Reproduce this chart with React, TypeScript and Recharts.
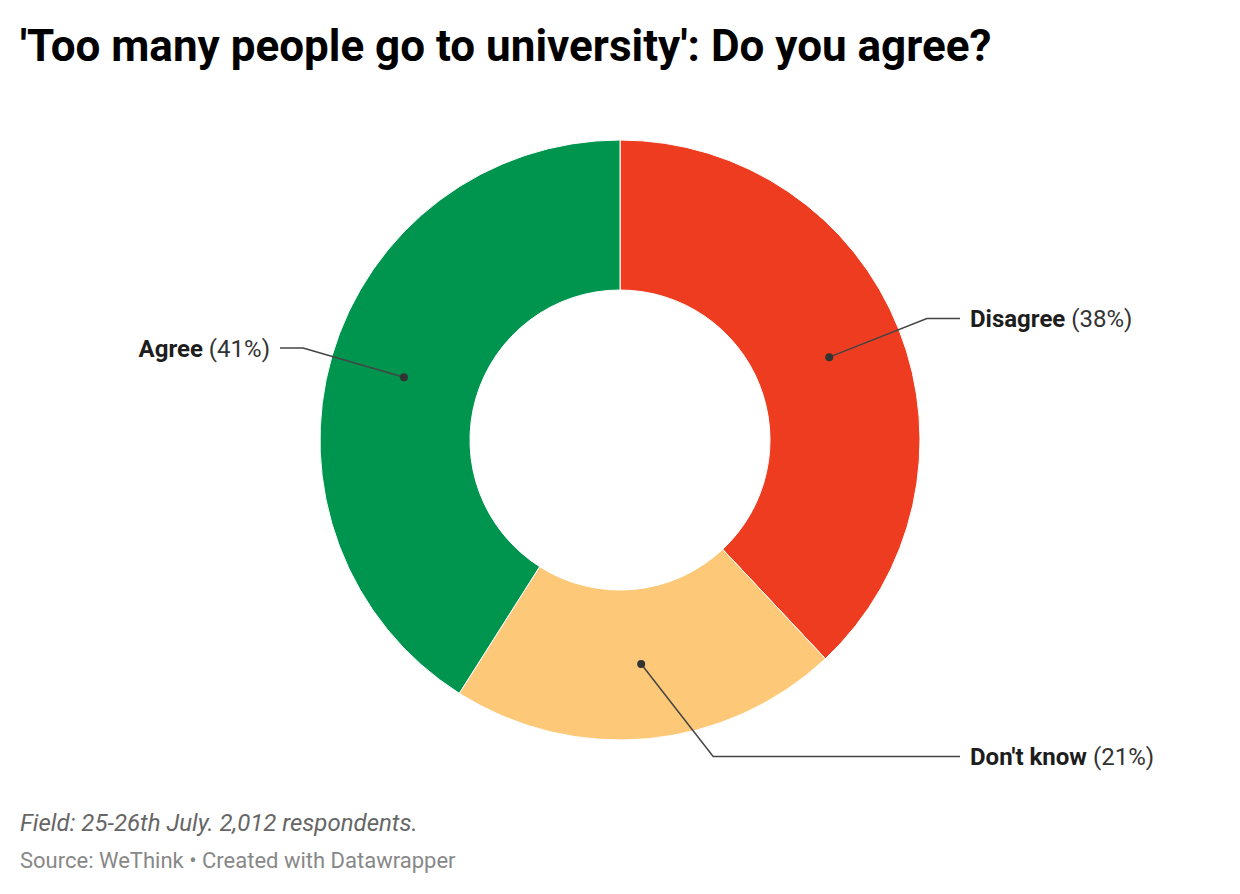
import React from "react";
import { PieChart, Pie, Cell } from "recharts";

const categories = ["Disagree", "Don't know", "Agree"];
const shares = [38, 21, 41];
const colors = ["#EE3C21", "#FDC978", "#00954F"];

const TITLE = "'Too many people go to university': Do you agree?";
const NOTE = "Field: 25-26th July. 2,012 respondents.";
const SOURCE = "Source: WeThink • Created with Datawrapper";

const data = categories.map((name, i) => ({ name, value: shares[i] }));

// leader line tweaks per slice (degrees added to the mid angle for the elbow)
const elbowShift = [0, 11, 0];
const RADIAN = Math.PI / 180;
const FONT = "Roboto, 'Noto Sans', sans-serif";

function SliceLabel(props: any) {
  const { cx, cy, midAngle, innerRadius, outerRadius, index, name, value } = props;
  const rDot = (innerRadius + outerRadius) / 2;
  const dx = cx + rDot * Math.cos(-midAngle * RADIAN);
  const dy = cy + rDot * Math.sin(-midAngle * RADIAN);
  const a = midAngle + elbowShift[index];
  const rElbow = outerRadius + 30;
  const ex = cx + rElbow * Math.cos(-a * RADIAN);
  const ey = cy + rElbow * Math.sin(-a * RADIAN);
  const right = ex > cx;
  const endX = right ? cx + 340 : cx - 340;
  const tx = right ? endX + 10 : endX - 10;
  return (
    <g>
      <polyline
        points={`${dx},${dy} ${ex},${ey} ${endX},${ey}`}
        fill="none"
        stroke="#444"
        strokeWidth={1.5}
      />
      <circle cx={dx} cy={dy} r={4} fill="#333" />
      <text
        x={tx}
        y={ey}
        dy="0.36em"
        textAnchor={right ? "start" : "end"}
        style={{ fontFamily: FONT, fontSize: 24, fill: "#1d1d1d" }}
      >
        <tspan fontWeight={700}>{name}</tspan>
        <tspan fill="#333"> ({value}%)</tspan>
      </text>
    </g>
  );
}

export default function App() {
  return (
    <div style={{ position: "absolute", left: 0, top: 0, width: 1240, height: 894, background: "#fff" }}>
      <div style={{ position: "absolute", left: 0, top: 0 }}>
        <PieChart width={1240} height={894} margin={{ top: 0, right: 0, bottom: 0, left: 0 }}>
          <Pie
            data={data}
            dataKey="value"
            nameKey="name"
            cx={620}
            cy={440}
            innerRadius={150}
            outerRadius={300}
            startAngle={90}
            endAngle={-270}
            stroke="#fff"
            strokeWidth={1}
            label={SliceLabel}
            labelLine={false}
            isAnimationActive={false}
          >
            {data.map((d, i) => (
              <Cell key={d.name} fill={colors[i]} />
            ))}
          </Pie>
        </PieChart>
      </div>
      <svg width={1240} height={894} style={{ position: "absolute", left: 0, top: 0, pointerEvents: "none" }}>
        <text x={20} y={61} style={{ fontFamily: FONT, fontSize: 44, fontWeight: 700, fill: "#000" }}>
          {TITLE}
        </text>
        <text x={20} y={831} style={{ fontFamily: FONT, fontSize: 24, fontStyle: "italic", fill: "#666" }}>
          {NOTE}
        </text>
        <text x={20} y={868} style={{ fontFamily: FONT, fontSize: 22, fill: "#888" }}>
          {SOURCE}
        </text>
      </svg>
    </div>
  );
}
